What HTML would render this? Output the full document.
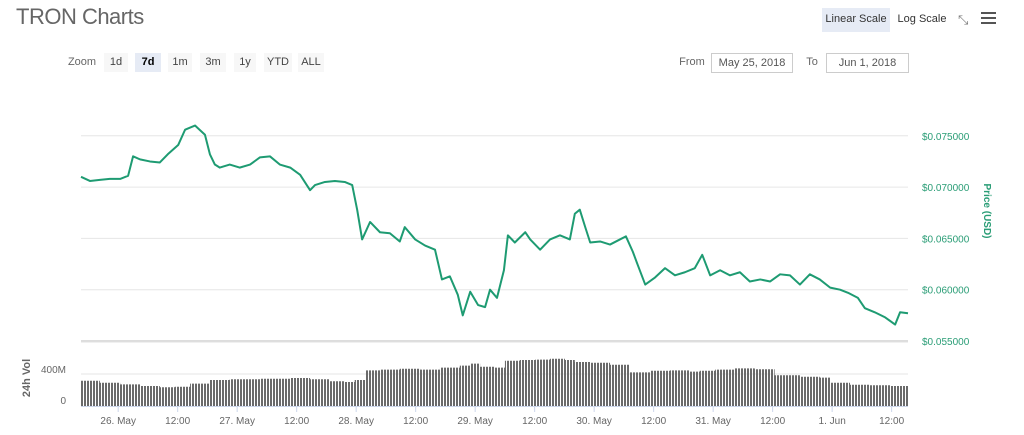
<!DOCTYPE html>
<html><head><meta charset="utf-8"><style>
body{margin:0;background:#fff;font-family:"Liberation Sans",sans-serif;}
#wrap{position:relative;width:1024px;height:435px;overflow:hidden;}
.btn{position:absolute;top:53px;height:19px;line-height:19px;font-size:11px;color:#444;text-align:center;}
</style></head><body>
<div id="wrap">
<div style="position:absolute;left:16px;top:4px;font-size:22px;color:#666;letter-spacing:-0.5px">TRON Charts</div>
<div class="btn" style="left:822px;top:8px;width:68px;height:24px;line-height:22px;background:#e6ebf5;color:#333">Linear Scale</div>
<div class="btn" style="left:895px;top:8px;width:54px;height:24px;line-height:22px;color:#333">Log Scale</div>
<div style="position:absolute;left:958px;top:12px;font-size:13px;color:#777">⤡</div>
<div style="position:absolute;left:981px;top:12px;width:15px;height:12px;border-top:2px solid #555;border-bottom:2px solid #555;box-sizing:border-box"><div style="margin-top:3px;height:2px;background:#555"></div></div>
<div class="btn" style="left:66px;width:32px;color:#666">Zoom</div>
<div class="btn" style="left:104px;width:24px;background:#f7f7f7">1d</div>
<div class="btn" style="left:135px;width:26px;background:#e6ebf5;font-weight:bold;color:#000">7d</div>
<div class="btn" style="left:168px;width:24px;background:#f7f7f7">1m</div>
<div class="btn" style="left:200px;width:26px;background:#f7f7f7">3m</div>
<div class="btn" style="left:234px;width:22px;background:#f7f7f7">1y</div>
<div class="btn" style="left:264px;width:28px;background:#f7f7f7">YTD</div>
<div class="btn" style="left:298px;width:26px;background:#f7f7f7">ALL</div>
<div class="btn" style="left:676px;width:32px;color:#666">From</div>
<div class="btn" style="left:711px;width:80px;border:1px solid #ccc;height:18px;line-height:18px;color:#555">May 25, 2018</div>
<div class="btn" style="left:802px;width:20px;color:#666">To</div>
<div class="btn" style="left:826px;width:81px;border:1px solid #ccc;height:18px;line-height:18px;color:#555">Jun 1, 2018</div>
<svg id="chart" width="1024" height="435" style="position:absolute;left:0;top:0">
<defs><pattern id="stripes" width="3" height="10" patternUnits="userSpaceOnUse"><rect width="2" height="10" fill="#6a6a6a"/></pattern></defs>
</svg>
</div>
<script>
const priceHours=[0,1.8,3.8,5.8,7.9,9.5,10.5,11.9,13.9,15.9,17.5,19.6,21,23,25,26,27,28,30,32,34.1,36.1,38.1,40.1,42.2,44.2,46.2,47.2,49.2,51.2,53.2,54.7,55.7,56.7,58.3,60.3,62.3,64.3,65.3,67.4,69.4,71.4,72.8,74.4,76,77,78.5,80.1,81.5,82.5,83.9,85.3,86.1,87.5,89.6,90.6,92.6,94.6,96.6,98.6,99.6,100.6,101.7,102.7,104.7,106.7,108.7,109.9,111.3,112.3,113.8,115.8,117.8,119.8,121.8,123.8,125.3,126.9,128.9,130.9,132.9,134.9,137,139,141,143,145,147,149,151.1,153.1,154.7,156.7,158.1,160.1,162.2,164.2,165.2,166.8];
const priceValues=[0.0710,0.0706,0.0707,0.0708,0.0708,0.0711,0.0730,0.0727,0.0725,0.0724,0.0732,0.0741,0.0756,0.0760,0.0751,0.0732,0.0722,0.0719,0.0722,0.0719,0.0722,0.0729,0.0730,0.0722,0.0719,0.0712,0.0697,0.0702,0.0705,0.0706,0.0705,0.0702,0.0678,0.0649,0.0666,0.0656,0.0655,0.0647,0.0661,0.0649,0.0643,0.0639,0.0610,0.0613,0.0595,0.0575,0.0598,0.0585,0.0583,0.0600,0.0592,0.0619,0.0653,0.0646,0.0656,0.0649,0.0639,0.0649,0.0653,0.0649,0.0674,0.0678,0.0661,0.0646,0.0647,0.0644,0.0649,0.0652,0.0637,0.0624,0.0605,0.0612,0.0621,0.0614,0.0617,0.0621,0.0634,0.0614,0.0619,0.0614,0.0617,0.0608,0.0610,0.0608,0.0615,0.0614,0.0605,0.0615,0.0610,0.0602,0.0600,0.0597,0.0592,0.0582,0.0578,0.0573,0.0566,0.0578,0.0577];
const volHours=[0,3.8,7.9,11.9,15.9,18.9,22,26,30,36.1,42.2,46.2,50.2,53.2,55.2,57.3,60.3,64.3,68.4,72.4,76.4,78.5,80.5,83.5,85.5,88.5,91.6,94.6,97.6,99.6,102.7,106.7,110.7,114.8,118.8,122.8,124.8,127.9,131.9,135.9,139.9,145,149,151.1,155.1,159.1,163.2,166.8];
const volValues=[315,290,270,250,235,240,280,325,335,340,350,335,310,300,325,445,455,465,455,480,505,530,490,480,565,575,580,590,575,550,540,515,420,440,445,430,440,455,470,460,385,365,355,290,265,260,250,265];
const priceTicks=[0.055,0.060,0.065,0.070,0.075];
const priceTickLabels=["$0.055000","$0.060000","$0.065000","$0.070000","$0.075000"];
const timeTickHours=[7.5,19.5,31.5,43.5,55.5,67.5,79.5,91.5,103.5,115.5,127.5,139.5,151.5,163.5];
const timeTickLabels=["26. May","12:00","27. May","12:00","28. May","12:00","29. May","12:00","30. May","12:00","31. May","12:00","1. Jun","12:00"];
const volTicks=[0,400];
const volTickLabels=["0","400M"];

const svg=document.getElementById('chart');
const NS='http://www.w3.org/2000/svg';
const X0=81,X1=908,HMAX=166.8;
const xS=h=>X0+h/HMAX*(X1-X0);
const yP=p=>341-(p-0.055)/0.005*51.3;
const yV=v=>406-v/400*32;
function mk(tag,attrs,parent){const e=document.createElementNS(NS,tag);for(const k in attrs)e.setAttribute(k,attrs[k]);(parent||svg).appendChild(e);return e;}

priceTicks.forEach((p,i)=>{
  const g=mk('line',{x1:X0,x2:X1,y1:yP(p),y2:yP(p),stroke:i==0?'#ddd':'#e6e6e6','stroke-width':i==0?2:1});
  
  
  const t=mk('text',{x:922,y:yP(p)+4,'font-size':10,fill:'#2a9d76'});
  t.textContent=priceTickLabels[i];
  
  
});
const pt=mk('text',{transform:'translate(984,211) rotate(90)','text-anchor':'middle','font-size':10,'font-weight':'bold',fill:'#2a9d76'});
pt.textContent='Price (USD)';



const vb=mk('line',{x1:X0,x2:X1,y1:342,y2:342,stroke:'#e0e0e0','stroke-width':1});


volTicks.forEach((v,i)=>{
  if(v>0){const g=mk('line',{x1:X0,x2:X1,y1:yV(v),y2:yV(v),stroke:'#e6e6e6'});
  
  }
  const t=mk('text',{x:66,y:yV(v)+(v?-1:-2),'text-anchor':'end','font-size':10,fill:'#666'});
  t.textContent=volTickLabels[i];
  
  
});
const vt=mk('text',{transform:'translate(30,378) rotate(-90)','text-anchor':'middle','font-size':11,'font-weight':'bold',fill:'#666'});
vt.textContent='24h Vol';



let d='M'+X0+','+yV(0);
volHours.forEach((h,i)=>{const xa=xS(h),xb=i<volHours.length-1?xS(volHours[i+1]):X1;d+=' L'+xa+','+yV(volValues[i])+' L'+xb+','+yV(volValues[i]);});
d+=' L'+X1+','+yV(0)+' Z';
const va=mk('path',{d:d,fill:'url(#stripes)'});



const bl=mk('line',{x1:X0,x2:X1,y1:406.5,y2:406.5,stroke:'#ccd6eb'});


timeTickHours.forEach((h,i)=>{
  const tk=mk('line',{x1:xS(h),x2:xS(h),y1:407,y2:412,stroke:'#ccd6eb'});
  
  
  const t=mk('text',{x:xS(h),y:424,'text-anchor':'middle','font-size':10,fill:'#666'});
  t.textContent=timeTickLabels[i];
  
  
});

const pl=mk('polyline',{points:priceHours.map((h,i)=>xS(h)+','+yP(priceValues[i])).join(' '),fill:'none',stroke:'#1e9b72','stroke-width':2,'stroke-linejoin':'round'});


</script>
</body></html>
